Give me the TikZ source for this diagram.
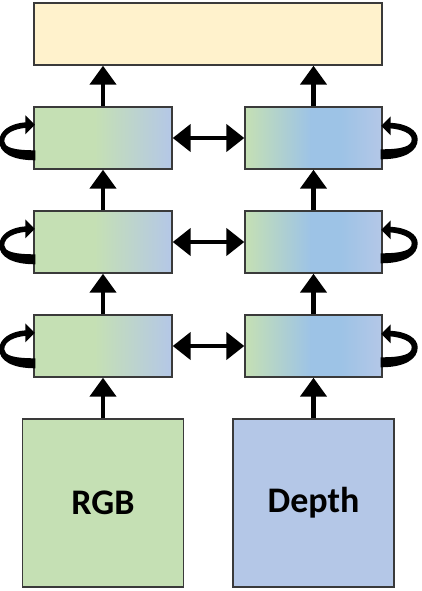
\documentclass[tikz,border=0pt]{standalone}
\usepackage{fontspec}
\setmainfont{Carlito}
\usetikzlibrary{arrows.meta,calc}
\definecolor{lg}{HTML}{C5E0B4}
\definecolor{lb}{HTML}{B4C7E7}
\definecolor{mb}{HTML}{9DC3E6}
\definecolor{topc}{HTML}{FFF2CC}
\definecolor{bord}{HTML}{3A3A3A}
\pgfdeclarehorizontalshading{lshade}{100bp}{color(0bp)=(lg); color(25bp)=(lg); color(47bp)=(lg); color(75bp)=(lb); color(100bp)=(lb)}
\pgfdeclarehorizontalshading{rshade}{100bp}{color(0bp)=(lg); color(25bp)=(lg); color(49bp)=(mb); color(60bp)=(mb); color(75bp)=(lb); color(100bp)=(lb)}
\tikzset{
  boxbase/.style={draw=bord, line width=1.4pt, inner sep=0pt},
  cellL/.style={boxbase, minimum width=138pt, minimum height=62pt, shading=lshade},
  cellR/.style={boxbase, minimum width=137pt, minimum height=62pt, shading=rshade},
  inbox/.style={boxbase, minimum width=161pt, minimum height=168pt, font=\fontsize{36}{40}\selectfont\bfseries},
  uparrow/.style={line width=4.5pt, -{Triangle[width=26pt,length=19pt]}},
  dblarrow/.style={line width=4.5pt, {Triangle[width=27pt,length=18pt]}-{Triangle[width=27pt,length=18pt]}},
  loopfill/.style={fill=black, draw=none}
}
\begin{document}
\begin{tikzpicture}[x=1pt,y=-1pt]
\useasboundingbox (0,0) rectangle (421,591);
\node[boxbase, fill=topc, minimum width=348pt, minimum height=62pt] (top) at (208,34) {};
\foreach \i/\yy in {1/138,2/242,3/346}{
  \node[cellL] (l\i) at (103,\yy) {};
  \node[cellR] (r\i) at (313.5,\yy) {};
}
\node[inbox, fill=lg] (rgb) at (103,503) {RGB};
\node[inbox, fill=lb] (depth) at (313.5,503) {Depth};
\draw[uparrow] (rgb.north) -- (l3.south);
\draw[uparrow] (depth.north) -- (r3.south);
\draw[uparrow] (l3.north) -- (l2.south);
\draw[uparrow] (r3.north) -- (r2.south);
\draw[uparrow] (l2.north) -- (l1.south);
\draw[uparrow] (r2.north) -- (r1.south);
\draw[uparrow] (l1.north) -- (l1.north |- top.south);
\draw[uparrow] (r1.north) -- (r1.north |- top.south);
\foreach \i in {1,2,3}{
  \draw[dblarrow] (l\i.east) -- (r\i.west);
  \begin{scope}[shift={(l\i.north west)}]
    \path[loopfill] (2,54) .. controls (-22,54) and (-34,46) .. (-34,35) .. controls (-34,25) and (-24,17) .. (-7,16) -- (-7,21.5) .. controls (-19,22.5) and (-29,27) .. (-29,35) .. controls (-29,41) and (-20,44) .. (2,44) -- cycle;
    \path[loopfill] (-8,9) -- (1.5,18.5) -- (-8,28) -- cycle;
  \end{scope}
  \begin{scope}[shift={(r\i.north east)}, xscale=-1]
    \path[loopfill] (2,53) .. controls (-22,53) and (-35,45) .. (-35,33) .. controls (-35,24) and (-24,17) .. (-7,16.5) -- (-7,22) .. controls (-19,23) and (-29,27) .. (-29,33) .. controls (-29,40) and (-20,43) .. (2,43) -- cycle;
    \path[loopfill] (-8,10) -- (1.5,19.5) -- (-8,29) -- cycle;
  \end{scope}
}
\end{tikzpicture}
\end{document}
